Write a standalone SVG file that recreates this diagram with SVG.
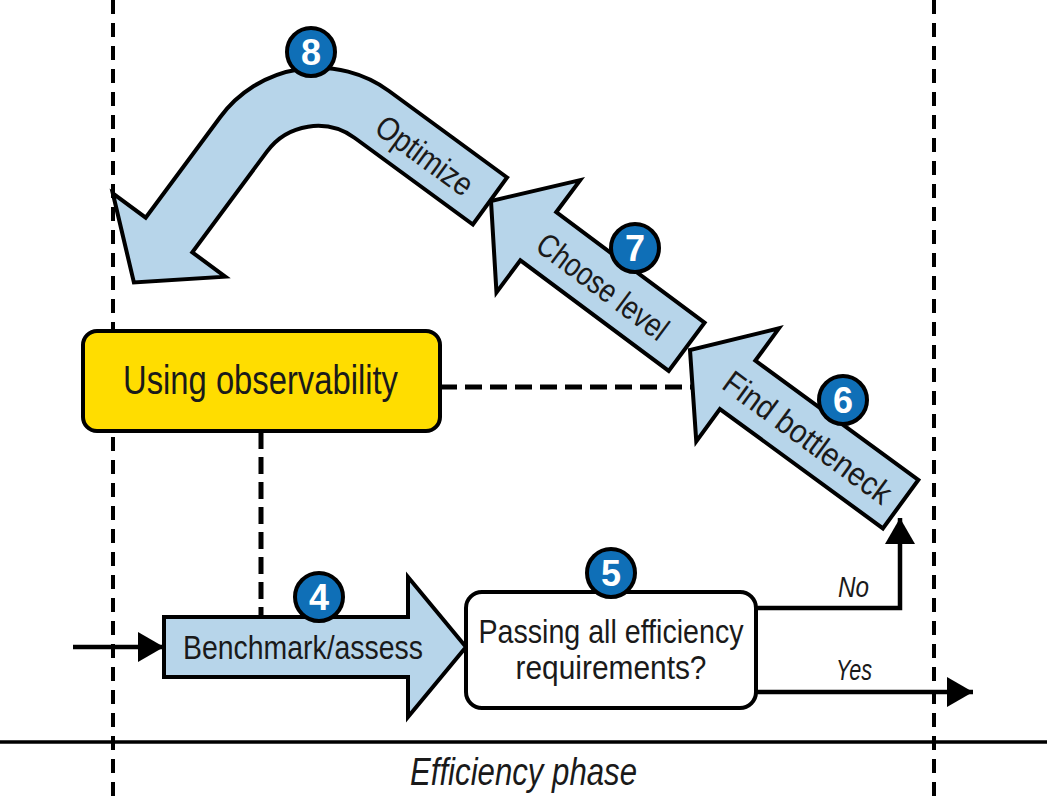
<svg xmlns="http://www.w3.org/2000/svg" width="1047" height="800" viewBox="0 0 1047 800">
<defs>
<style>
.arrow{fill:#B7D5EA;stroke:#000;stroke-width:4;stroke-linejoin:miter;stroke-miterlimit:10}
.lbl{font-family:"Liberation Sans",Arial,sans-serif;fill:#1a1a1a}
.num{font-family:"Liberation Sans",Arial,sans-serif;font-weight:bold;font-size:36px;fill:#fff;text-anchor:middle}
.badge{fill:#0F6FB7;stroke:#000;stroke-width:4}
.phase{stroke:#000;stroke-width:4;stroke-dasharray:14 9;fill:none}
.dash{stroke:#000;stroke-width:5;stroke-dasharray:17 8;fill:none}
.solid{stroke:#000;stroke-width:4.5;fill:none}
</style>
<marker id="ah" viewBox="0 0 26 30" refX="26" refY="15" markerWidth="26" markerHeight="30" markerUnits="userSpaceOnUse" orient="auto">
<path d="M0,0 L26,15 L0,30 Z" fill="#000"/>
</marker>
</defs>
<rect width="1047" height="800" fill="#fff"/>
<g id="phase-frame">
<line class="phase" x1="113" y1="0" x2="113" y2="800"/>
<line class="phase" x1="934" y1="0" x2="934" y2="800"/>
<line x1="0" y1="742" x2="1047" y2="742" stroke="#000" stroke-width="3.5"/>
<text class="lbl" x="410" y="785" font-size="39" font-style="italic" textLength="227" lengthAdjust="spacingAndGlyphs">Efficiency phase</text>
</g>
<g id="connectors">
<line class="dash" x1="261" y1="432" x2="261" y2="617"/>
<line class="dash" x1="440" y1="387" x2="694" y2="387"/>
<line class="solid" x1="73" y1="647" x2="164" y2="647" marker-end="url(#ah)"/>
<polyline class="solid" points="757,608 900,608 900,518" marker-end="url(#ah)"/>
<line class="solid" x1="757" y1="692" x2="973" y2="692" marker-end="url(#ah)"/>
<text class="lbl" x="838" y="597" font-size="30" font-style="italic" textLength="31" lengthAdjust="spacingAndGlyphs">No</text>
<text class="lbl" x="836" y="680" font-size="30" font-style="italic" textLength="36" lengthAdjust="spacingAndGlyphs">Yes</text>
</g>
<g id="observability">
<rect x="83" y="331" width="357" height="100" rx="14" fill="#FFDD00" stroke="#000" stroke-width="4"/>
<text class="lbl" x="123" y="394" font-size="40" textLength="275" lengthAdjust="spacingAndGlyphs">Using observability</text>
</g>
<g id="benchmark">
<polygon class="arrow" transform="translate(466,647)" points="0,0 -58,-70 -58,-30 -302,-30 -302,30 -58,30 -58,70"/>
<text class="lbl" x="183" y="659" font-size="34" textLength="240" lengthAdjust="spacingAndGlyphs">Benchmark/assess</text>
<circle class="badge" cx="319" cy="597" r="24"/>
<text class="num" x="319" y="610">4</text>
</g>
<g id="decision">
<rect x="466" y="592" width="290" height="116" rx="16" fill="#fff" stroke="#000" stroke-width="4"/>
<text class="lbl" x="611" y="643" font-size="34" text-anchor="middle" textLength="265" lengthAdjust="spacingAndGlyphs">Passing all efficiency</text>
<text class="lbl" x="611" y="679" font-size="34" text-anchor="middle" textLength="191" lengthAdjust="spacingAndGlyphs">requirements?</text>
<circle class="badge" cx="611" cy="573" r="24"/>
<text class="num" x="611" y="586">5</text>
</g>
<g id="find-bottleneck">
<polygon class="arrow" transform="translate(690,350) rotate(216.2)" points="0,0 -59,-70 -59,-30 -261,-30 -261,30 -59,30 -59,70"/>
<text class="lbl" transform="translate(808,437) rotate(36.2)" x="0" y="12" font-size="33" text-anchor="middle" textLength="200" lengthAdjust="spacingAndGlyphs">Find bottleneck</text>
<circle class="badge" cx="843" cy="400" r="24"/>
<text class="num" x="843" y="413">6</text>
</g>
<g id="choose-level">
<polygon class="arrow" transform="translate(491,201) rotate(216.7)" points="0,0 -59,-70 -59,-30 -244,-30 -244,30 -59,30 -59,70"/>
<text class="lbl" transform="translate(603,286) rotate(36.7)" x="0" y="12" font-size="33" text-anchor="middle" textLength="155" lengthAdjust="spacingAndGlyphs">Choose level</text>
<circle class="badge" cx="635" cy="248" r="24"/>
<text class="num" x="635" y="261">7</text>
</g>
<g id="optimize">
<path class="arrow" d="M507.1,177.5 L389,91 A121.1,121.1 0 0 0 220.3,117 L145.7,217.7 L112.8,193.3 L133.9,282.4 L225.2,276.7 L192.3,252.3 L266.9,151.6 A63.1,63.1 0 0 1 354.8,138 L472.9,224.5 Z"/>
<text class="lbl" transform="translate(425,155) rotate(36)" x="0" y="12" font-size="33" text-anchor="middle" textLength="112" lengthAdjust="spacingAndGlyphs">Optimize</text>
<circle class="badge" cx="311" cy="52" r="24"/>
<text class="num" x="311" y="65">8</text>
</g>
</svg>
